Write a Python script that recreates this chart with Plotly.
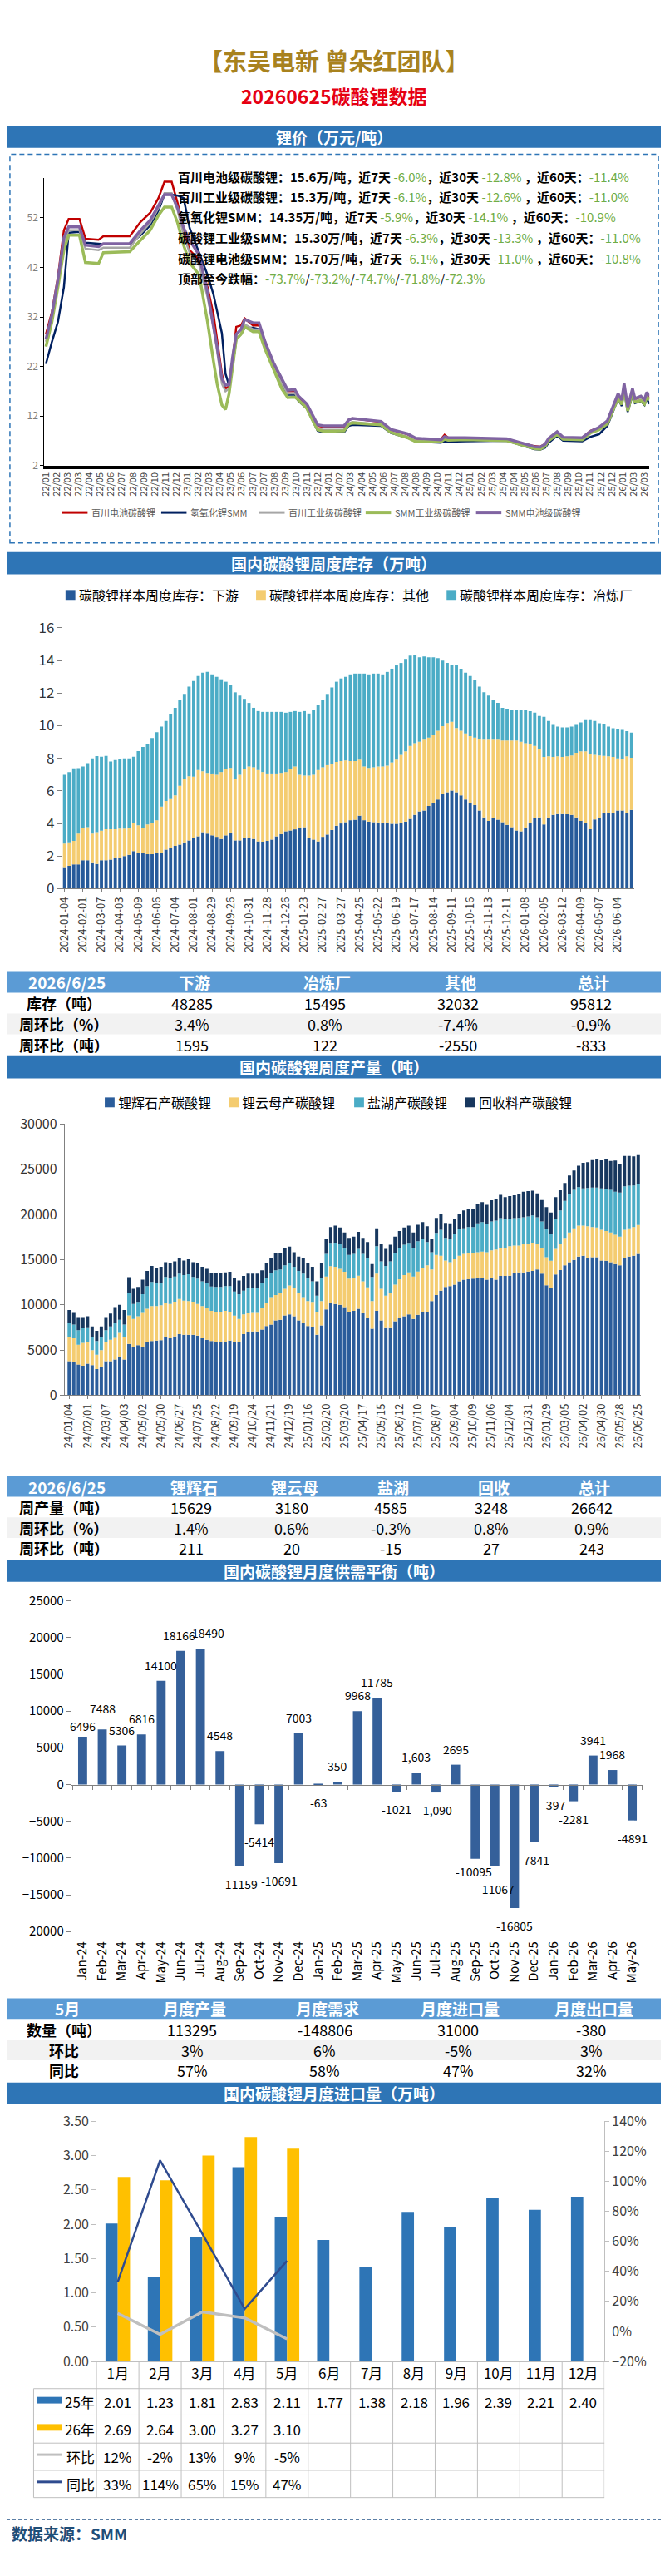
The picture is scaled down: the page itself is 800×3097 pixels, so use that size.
import numpy as np
import plotly.graph_objects as go

W, H = 800, 3097
def xp(v): return v / W
def yp(v): return 1 - v / H

CN = "Noto Sans CJK SC, sans-serif"

# ---------------- price chart data (万元/吨) ----------------
price_ticks = ["22/01","22/02","22/03","22/03","22/04","22/05","22/06","22/07","22/08","22/09","22/10","22/11","22/12",
               "23/01","23/02","23/03","23/04","23/05","23/06","23/07","23/07","23/08","23/09","23/10","23/11","23/12",
               "24/01","24/02","24/03","24/04","24/05","24/06","24/07","24/08","24/08","24/09","24/10","24/11","24/12",
               "25/01","25/02","25/03","25/04","25/04","25/05","25/06","25/07","25/08","25/09","25/10","25/11","25/12","25/12",
               "26/01","26/03","26/03"]
price_x = [0, 0.5, 1.0, 1.5, 1.9, 2.8, 3.3, 4.4, 4.8, 7.0, 7.9, 8.7, 9.4, 9.9, 10.5, 11.0, 11.5, 12.0, 12.8, 13.5,
           14.0, 14.3, 14.7, 15.0, 15.3, 15.6, 15.9, 16.3, 16.6, 17.3, 17.8, 18.3, 19.0, 19.7, 20.2, 20.8, 21.1, 21.8, 22.3, 22.7,
           23.2, 24.9, 25.3, 25.6, 28.0, 28.8, 30.2, 30.9, 33.0, 33.3, 33.6, 35.0, 38.5, 39.6, 40.8, 41.3, 41.7, 42.0, 42.7, 43.2,
           44.8, 45.5, 46.2, 46.9, 47.4, 47.8, 48.1, 48.3, 48.6, 49.0, 49.2, 49.7, 50.0, 50.2, 50.4]
p_bc_batt = [28.5, 33.0, 40.0, 49.5, 51.8, 51.8, 47.8, 47.6, 48.3, 48.3,
             51.2, 53.0, 56.0, 59.3, 59.3, 55.0, 49.5, 45.5, 43.5, 38.0,
             32.5, 27.0, 20.5, 17.5, 18.0, 23.5, 30.0, 30.3, 31.7, 30.3,
             30.3, 26.5, 22.3, 19.2, 17.0, 17.0, 15.8, 14.2, 11.7, 10.0,
             9.8, 9.8, 11.2, 11.5, 10.8, 9.2, 8.3, 7.4, 7.3, 8.2,
             7.6, 7.5, 7.3, 6.6, 5.9, 5.8, 6.3, 7.3, 8.6, 7.6,
             7.6, 9.0, 9.6, 10.8, 13.8, 16.2, 14.8, 18.2, 13.4, 17.3,
             15.3, 15.7, 14.9, 16.5, 15.6]
p_lioh = [22.5, 27.0, 31.0, 38.0, 49.0, 49.2, 47.0, 46.7, 46.7, 46.7,
          48.5, 50.5, 53.5, 56.7, 56.7, 56.5, 56.0, 50.0, 45.0, 40.5,
          36.5, 33.0, 28.7, 20.5, 18.2, 22.0, 27.5, 28.5, 29.8, 29.8,
          29.5, 26.0, 21.5, 18.5, 16.3, 16.3, 15.0, 13.5, 11.0, 9.0,
          8.7, 8.7, 10.0, 10.2, 10.0, 8.6, 7.6, 6.8, 6.6, 6.9,
          6.8, 6.9, 7.0, 6.2, 5.3, 5.2, 5.6, 6.6, 8.0, 7.0,
          6.9, 7.8, 8.3, 10.0, 13.0, 15.5, 14.0, 17.2, 12.8, 16.2,
          14.6, 15.0, 14.2, 15.5, 14.4]
p_bc_ind = [27.0, 32.0, 39.0, 47.0, 49.5, 49.5, 45.8, 45.5, 46.0, 46.0,
            48.8, 51.0, 54.0, 57.0, 57.0, 53.5, 48.5, 45.0, 42.5, 36.0,
            30.0, 25.0, 18.5, 17.0, 17.5, 22.5, 28.5, 29.5, 30.5, 29.5,
            29.5, 25.8, 21.8, 18.5, 16.5, 16.6, 15.3, 13.8, 11.3, 9.4,
            9.2, 9.2, 10.5, 10.8, 10.2, 8.7, 7.8, 7.0, 6.9, 7.4,
            7.2, 7.2, 7.0, 6.3, 5.5, 5.4, 6.0, 7.0, 8.3, 7.3,
            7.3, 8.7, 9.3, 10.5, 13.5, 15.8, 14.5, 17.8, 13.2, 16.9,
            15.0, 15.4, 14.6, 16.1, 15.3]
p_smm_ind = [26.0, 31.0, 38.0, 45.5, 48.5, 48.5, 43.0, 42.8, 45.0, 45.2,
             47.5, 49.5, 52.5, 54.2, 54.2, 51.0, 46.5, 43.0, 40.5, 31.0,
             23.0, 18.5, 14.2, 13.3, 16.5, 22.5, 27.5, 28.5, 30.0, 29.0,
             29.0, 25.5, 21.5, 17.5, 15.7, 15.8, 15.2, 13.5, 11.0, 9.2,
             8.9, 9.0, 10.3, 10.6, 10.2, 8.7, 7.6, 6.8, 6.8, 7.3,
             7.1, 7.2, 7.0, 6.3, 5.4, 5.3, 5.9, 7.0, 8.3, 7.3,
             7.2, 8.6, 9.2, 10.4, 13.3, 15.6, 14.3, 17.5, 13.0, 16.6,
             14.8, 15.1, 14.4, 15.8, 15.2]
p_smm_batt = [27.5, 32.5, 39.5, 48.0, 50.2, 50.2, 46.5, 46.2, 46.8, 46.8,
              49.5, 51.5, 54.5, 56.7, 56.7, 54.0, 50.0, 47.5, 44.5, 37.0,
              30.0, 26.0, 19.5, 18.2, 18.3, 24.0, 28.5, 29.5, 31.5, 30.8,
              30.8, 27.0, 22.8, 19.5, 17.2, 17.3, 16.0, 14.4, 12.0, 10.2,
              10.0, 10.0, 11.2, 11.5, 10.9, 9.3, 8.4, 7.5, 7.2, 7.8,
              7.6, 7.6, 7.4, 6.6, 5.8, 5.7, 6.3, 7.5, 8.8, 7.7,
              7.6, 8.9, 9.7, 11.0, 14.0, 16.5, 15.2, 18.5, 13.8, 17.5,
              15.5, 16.0, 15.3, 16.8, 16.0]
price_notes = [
    ("百川电池级碳酸锂", "15.6万/吨", "-6.0%", "-12.8%", "-11.4%"),
    ("百川工业级碳酸锂", "15.3万/吨", "-6.1%", "-12.6%", "-11.0%"),
    ("氢氧化锂SMM", "14.35万/吨", "-5.9%", "-14.1%", "-10.9%"),
    ("碳酸锂工业级SMM", "15.30万/吨", "-6.3%", "-13.3%", "-11.0%"),
    ("碳酸锂电池级SMM", "15.70万/吨", "-6.1%", "-11.0%", "-10.8%"),
]
price_top_drop = ["-73.7%", "-73.2%", "-74.7%", "-71.8%", "-72.3%"]

# ---------------- weekly inventory (万吨), stacked boundaries ----------------
inv_ticks = ["2024-01-04","2024-02-01","2024-03-07","2024-04-03","2024-05-09","2024-06-06","2024-07-04","2024-08-01",
             "2024-08-29","2024-09-26","2024-10-31","2024-11-28","2024-12-26","2025-01-23","2025-02-27","2025-03-27",
             "2025-04-25","2025-05-22","2025-06-19","2025-07-17","2025-08-14","2025-09-11","2025-10-16","2025-11-13",
             "2025-12-11","2026-01-08","2026-02-05","2026-03-12","2026-04-09","2026-05-07","2026-06-04"]
inv_downstream = [1.32,1.40,1.49,1.49,1.74,1.74,1.62,1.52,1.74,1.74,
                  1.78,1.86,1.91,2.00,2.08,2.30,2.17,2.22,2.12,2.12,
                  2.17,2.22,2.39,2.50,2.62,2.70,2.84,2.96,3.13,3.21,
                  3.47,3.38,3.27,3.18,3.05,3.27,3.43,2.96,2.96,3.13,
                  3.10,3.05,2.90,2.88,2.93,3.01,3.21,3.35,3.52,3.57,
                  3.64,3.72,3.77,3.13,3.01,2.90,3.18,3.32,3.60,3.86,
                  4.00,4.08,4.20,4.23,4.48,4.20,4.11,4.08,4.06,4.03,
                  4.03,3.98,3.98,4.03,4.11,4.28,4.53,4.74,4.79,5.08,
                  5.25,5.47,5.80,5.92,6.02,5.92,5.72,5.47,5.25,5.13,
                  4.79,4.37,4.15,4.31,4.23,4.08,3.91,3.77,3.57,3.52,
                  3.72,4.03,4.31,4.37,3.94,4.31,4.53,4.58,4.58,4.57,
                  4.53,4.37,4.15,4.03,3.64,4.25,4.31,4.62,4.62,4.65,
                  4.79,4.79,4.67,4.83]
inv_down_plus_other = [2.76,2.84,2.93,3.38,3.72,3.77,3.38,3.47,3.55,3.64,
                       3.64,3.64,3.69,3.69,3.72,4.06,3.89,3.72,3.94,4.03,
                       4.20,5.04,5.38,5.55,5.72,6.31,6.73,6.90,6.87,7.28,
                       7.21,7.11,7.07,6.99,7.16,7.33,7.41,6.73,6.99,7.33,
                       7.50,7.45,7.28,7.16,7.07,7.07,7.07,7.11,7.16,7.33,
                       7.50,6.99,6.94,6.94,6.99,7.28,7.45,7.58,7.67,7.78,
                       7.83,7.87,7.83,7.83,7.92,7.50,7.41,7.45,7.50,7.50,
                       7.55,7.75,7.92,8.21,8.43,8.76,8.93,9.02,9.14,9.27,
                       9.41,9.70,9.98,10.17,10.24,9.86,9.70,9.53,9.36,9.27,
                       9.19,9.14,9.14,9.14,9.14,9.10,9.10,9.10,9.10,9.02,
                       8.93,8.85,8.76,8.60,8.09,8.12,8.09,8.12,8.09,8.12,
                       8.17,8.34,8.43,8.43,8.26,8.21,8.17,8.15,8.12,8.09,
                       8.00,7.95,8.13,8.03]
inv_total = [6.99,7.16,7.38,7.40,7.50,7.70,8.00,8.14,8.10,8.15,
             7.80,7.90,7.97,8.00,8.00,8.10,8.45,8.70,8.85,9.25,
             9.60,9.95,10.30,10.70,11.10,11.60,11.95,12.40,12.75,13.05,
             13.25,13.30,13.15,13.00,12.85,12.70,12.50,12.05,11.85,11.65,
             11.40,11.10,10.90,10.85,10.85,10.85,10.85,10.85,10.80,10.85,
             10.90,10.85,10.90,10.75,10.95,11.30,11.60,11.95,12.35,12.70,
             12.90,13.00,13.15,13.20,13.20,13.20,13.15,13.20,13.20,13.15,
             13.30,13.50,13.70,13.85,14.10,14.30,14.35,14.20,14.25,14.20,
             14.20,14.15,14.00,13.85,13.75,13.70,13.50,13.25,13.05,12.80,
             12.40,12.05,11.85,11.60,11.40,11.10,11.05,11.00,10.95,11.00,
             11.00,10.90,10.80,10.60,10.55,10.30,10.05,9.95,9.90,9.90,
             9.95,10.05,10.20,10.35,10.35,10.30,10.15,10.10,9.95,9.85,
             9.80,9.75,9.67,9.58]
inv_table_cols = ["下游", "冶炼厂", "其他", "总计"]
inv_table_rows = [("库存（吨）", ["48285", "15495", "32032", "95812"]),
                  ("周环比（%）", ["3.4%", "0.8%", "-7.4%", "-0.9%"]),
                  ("周环比（吨）", ["1595", "122", "-2550", "-833"])]

# ---------------- weekly production (吨), stacked boundaries ----------------
prod_ticks = ["24/01/04","24/02/01","24/03/07","24/04/03","24/05/02","24/05/30","24/06/27","24/07/25","24/08/22",
              "24/09/19","24/10/24","24/11/21","24/12/19","25/01/16","25/02/20","25/03/20","25/04/17","25/05/15",
              "25/06/12","25/07/10","25/08/07","25/09/04","25/10/09","25/11/06","25/12/04","25/12/31","26/01/29",
              "26/03/05","26/04/02","26/04/30","26/05/28","26/06/25"]
prod_spod = [3770,3620,3400,3250,3500,3340,2890,3100,3770,3770,
             3950,4230,3950,5680,5290,5530,5380,5840,5990,6050,
             6080,6380,6290,6500,6750,6690,6690,6690,6600,6290,
             6140,5990,5930,5930,5930,6050,5930,5930,6750,6990,
             7050,7050,7270,7660,7810,8270,8330,8820,8940,8720,
             8270,8030,7660,7570,6690,7720,9480,10180,10090,10000,
             9730,9240,9330,9550,9090,8570,7360,9330,8270,7510,
             7510,8180,8570,8720,8940,8420,8880,9240,9240,10400,
             11070,11550,11980,12070,12220,12590,12770,12830,12890,12980,
             12980,12770,12980,12770,13190,13190,13220,13500,13590,13590,
             13680,13740,13890,13440,12160,11830,13350,13830,14350,14710,
             14960,15320,15410,15200,15260,15260,14900,14870,14710,14500,
             14350,15110,15320,15418,15629]
prod_spod_lepi = [6380,6290,5590,5780,5840,4980,4470,4980,5930,6140,
                  6350,6900,6380,8820,8420,8720,9180,9550,9850,9850,
                  9940,10240,10090,10340,10640,10460,10400,10340,10090,9850,
                  9640,9330,9240,9240,9330,9240,8790,8420,8940,9120,
                  9180,9180,9640,10240,10850,11070,11250,11760,12130,11860,
                  11250,10850,10400,10310,9240,10400,13130,14260,14200,13980,
                  13650,12890,12980,13220,12590,11920,10400,13440,11760,11000,
                  11310,12220,12830,13280,13590,13130,13680,14100,14350,13890,
                  15500,15410,14900,14710,15020,15410,15630,15720,15720,15810,
                  15870,15810,16020,16110,16320,16320,16480,16540,16540,16690,
                  16780,16870,16780,16230,15260,14870,16170,16780,17390,18000,
                  18450,18760,18760,18670,18600,18540,18300,18150,18000,17750,
                  17540,18300,18450,18578,18809]
prod_spod_lepi_brine = [7960,7810,7200,7420,7510,6440,5990,6440,7200,7600,
                        8030,8330,7810,11310,10090,10310,11160,12070,12520,12460,
                        12460,13070,12980,13130,13440,13290,13380,13070,12890,12590,
                        12460,12010,11980,11980,12070,12070,11460,11160,11550,11860,
                        11860,11860,12370,12980,13500,13800,13890,14350,14590,14200,
                        13740,13440,12980,12590,11000,12980,15630,16840,16870,16780,
                        16230,15500,15630,16170,15630,15110,13070,16480,14800,14290,
                        14800,15720,16260,16630,16840,16230,17020,17240,16930,15810,
                        17940,18300,17390,17240,17840,18360,18450,18600,18600,19000,
                        19150,18910,19210,19300,19580,19520,19520,19580,19610,19670,
                        19760,19880,19670,19210,18360,17840,19460,20430,21490,22250,
                        22710,23010,22860,22920,22950,22950,22860,22800,22710,22500,
                        22400,23100,23160,23178,23394]
prod_total = [9420,9180,8630,8630,8720,7600,7110,7600,8630,9030,
              9730,10000,9420,13040,11760,11980,12770,13740,14290,14100,
              14200,14710,14590,14800,15110,14900,15020,14710,14590,14200,
              13980,13530,13500,13500,13590,13650,12980,12680,13190,13440,
              13440,13440,13800,14560,15110,15660,15720,16230,16420,15800,
              15320,15110,14650,14200,12590,14650,17240,18600,18760,18540,
              18000,17390,17540,18060,17390,16930,14500,18450,16690,16170,
              16630,17540,18150,18540,18760,18000,18850,19150,18670,17300,
              19610,20030,19060,19000,19460,20060,20430,20580,20640,21130,
              21340,21040,21550,21650,22160,21890,22010,22100,22190,22500,
              22560,22620,22310,21580,20790,20190,21890,22650,23470,24290,
              24840,25380,25690,25750,25990,26050,25960,26050,25900,25950,
              25600,26450,26450,26399,26642]
prod_table_cols = ["锂辉石", "锂云母", "盐湖", "回收", "总计"]
prod_table_rows = [("周产量（吨）", ["15629", "3180", "4585", "3248", "26642"]),
                   ("周环比（%）", ["1.4%", "0.6%", "-0.3%", "0.8%", "0.9%"]),
                   ("周环比（吨）", ["211", "20", "-15", "27", "243"])]

# ---------------- monthly balance (吨) ----------------
bal_months = ["Jan-24","Feb-24","Mar-24","Apr-24","May-24","Jun-24","Jul-24","Aug-24","Sep-24","Oct-24","Nov-24","Dec-24",
              "Jan-25","Feb-25","Mar-25","Apr-25","May-25","Jun-25","Jul-25","Aug-25","Sep-25","Oct-25","Nov-25","Dec-25",
              "Jan-26","Feb-26","Mar-26","Apr-26","May-26"]
bal_values = [6496, 7488, 5306, 6816, 14100, 18166, 18490, 4548, -11159, -5414, -10691, 7003,
              -63, 350, 9968, 11785, -1021, 1603, -1090, 2695, -10095, -11067, -16805, -7841,
              -397, -2281, 3941, 1968, -4891]
bal_labels = ["6496", "7488", "5306", "6816", "14100", "18166", "18490", "4548", "-11159", "-5414", "-10691", "7003",
              "-63", "350", "9968", "11785", "-1021", "1,603", "-1,090", "2695", "-10095", "-11067", "-16805", "-7841",
              "-397", "-2281", "3941", "1968", "-4891"]
# label nudges (px) so that crowded labels stay readable
bal_label_dx = [0, 0, 0, 0, 0, -2, 9, 0, 0, 0, 0, 0,
                0, 0, 0, 0, 0, 0, 0, 0, -2, 2, 0, 0,
                0, 0, 0, 0, 0]
bal_label_dy = [-6, 6, 0, 0, 0, 0, 0, 0, 0, 0, 0, 0,
                0, 0, 0, 0, 0, 0, 0, 0, 6, -7, 0, 0,
                0, 0, 0, 0, 0]
bal_table_cols = ["月度产量", "月度需求", "月度进口量", "月度出口量"]
bal_table_rows = [("数量（吨）", ["113295", "-148806", "31000", "-380"]),
                  ("环比", ["3%", "6%", "-5%", "3%"]),
                  ("同比", ["57%", "58%", "47%", "32%"])]

# ---------------- monthly imports (万吨) ----------------
imp_months = ["1月","2月","3月","4月","5月","6月","7月","8月","9月","10月","11月","12月"]
imp_25 = [2.01, 1.23, 1.81, 2.83, 2.11, 1.77, 1.38, 2.18, 1.96, 2.39, 2.21, 2.40]
imp_26 = [2.69, 2.64, 3.00, 3.27, 3.10]
imp_mom = [12, -2, 13, 9, -5]
imp_yoy = [33, 114, 65, 15, 47]

# =====================================================================
fig = go.Figure()
shapes, ann = [], []

def note(text, x, y, size, color="#000000", xanchor="center", xref="paper", bold=False):
    ann.append(dict(text=("<b>%s</b>" % text) if bold else text, x=x, y=y, xref=xref, yref="paper",
                    xanchor=xanchor, yanchor="middle", showarrow=False,
                    font=dict(size=size, color=color, family=CN)))

def legend_line(x, y, color, text, width=3, size=11, tcolor="#595959"):
    shapes.append(dict(type="line", xref="paper", yref="paper", x0=xp(x), x1=xp(x + 31), y0=yp(y), y1=yp(y),
                       line=dict(color=color, width=width)))
    note(text, xp(x + 34), yp(y), size, tcolor, xanchor="left")

def legend_box(x, y, color, text, size=16):
    shapes.append(dict(type="rect", xref="paper", yref="paper", x0=xp(x), x1=xp(x + 12), y0=yp(y + 6), y1=yp(y - 6),
                       fillcolor=color, line=dict(width=0)))
    note(text, xp(x + 14), yp(y), size, "#000000", xanchor="left")

# price lines
price_series = [("百川电池碳酸锂", p_bc_batt, "#C00000", 2.5, 68),
                ("氢氧化锂SMM", p_lioh, "#002060", 2.5, 189),
                ("百川工业级碳酸锂", p_bc_ind, "#A6A6A6", 2.5, 309),
                ("SMM工业级碳酸锂", p_smm_ind, "#9BBB59", 3.5, 439),
                ("SMM电池级碳酸锂", p_smm_batt, "#8064A2", 3.5, 574)]
for name, vals, color, w, lx in price_series:
    fig.add_trace(go.Scatter(x=price_x, y=vals, mode="lines", name=name,
                             line=dict(color=color, width=w), xaxis="x", yaxis="y", showlegend=False))
    legend_line(lx, 607, color, name, width=3 if w < 3 else 4)

# inventory stacked bars
d = np.array(inv_downstream); o = np.array(inv_down_plus_other); t = np.array(inv_total)
ix = np.arange(len(t))
for name, y, base, color, lx in [("碳酸锂样本周度库存：下游", d, np.zeros_like(d), "#265A9A", 72),
                                 ("碳酸锂样本周度库存：其他", o - d, d, "#F4CC70", 305),
                                 ("碳酸锂样本周度库存：冶炼厂", t - o, o, "#4BACC6", 538)]:
    fig.add_trace(go.Bar(x=ix, y=y, base=base, name=name, marker=dict(color=color, line=dict(width=0)),
                         width=0.7, xaxis="x2", yaxis="y2", showlegend=False))
    legend_box(lx, 707, color, name)

# production stacked bars
s1 = np.array(prod_spod); s2 = np.array(prod_spod_lepi); s3 = np.array(prod_spod_lepi_brine); s4 = np.array(prod_total)
px_ = np.arange(len(s4))
for name, y, base, color, lx in [("锂辉石产碳酸锂", s1, np.zeros_like(s1), "#2B5D9B", 120),
                                 ("锂云母产碳酸锂", s2 - s1, s1, "#F4CC70", 272),
                                 ("盐湖产碳酸锂", s3 - s2, s2, "#4BACC6", 425),
                                 ("回收料产碳酸锂", s4 - s3, s3, "#17375E", 561)]:
    fig.add_trace(go.Bar(x=px_, y=y, base=base, name=name, marker=dict(color=color, line=dict(width=0)),
                         width=0.72, xaxis="x3", yaxis="y3", showlegend=False))
    legend_box(lx, 1322, color, name)

# balance
fig.add_trace(go.Bar(x=bal_months, y=bal_values, marker=dict(color="#35609A", line=dict(width=0)), width=0.46,
                     xaxis="x4", yaxis="y4", showlegend=False))
fig.add_trace(go.Scatter(x=[None], y=[None], xaxis="x6", yaxis="y4", showlegend=False))
for m, v, lab, dx, dy in zip(bal_months, bal_values, bal_labels, bal_label_dx, bal_label_dy):
    ann.append(dict(text=lab, x=m, y=v, xref="x4", yref="y4", xanchor="center", yanchor="middle",
                    xshift=dx, yshift=(19 if v > 0 else -21) + dy, showarrow=False,
                    font=dict(size=14, color="#000000", family=CN)))

# imports
fig.add_trace(go.Bar(x=imp_months, y=imp_25, name="25年", marker=dict(color="#2E75B6", line=dict(width=0)),
                     width=0.29, offset=-0.29, xaxis="x5", yaxis="y5", showlegend=False))
fig.add_trace(go.Bar(x=imp_months[:len(imp_26)], y=imp_26, name="26年", marker=dict(color="#FFC000", line=dict(width=0)),
                     width=0.29, offset=0.0, xaxis="x5", yaxis="y5", showlegend=False))
fig.add_trace(go.Scatter(x=imp_months[:len(imp_mom)], y=imp_mom, mode="lines", name="环比",
                         line=dict(color="#BFBFBF", width=3.5), xaxis="x5", yaxis="y6", showlegend=False))
fig.add_trace(go.Scatter(x=imp_months[:len(imp_yoy)], y=imp_yoy, mode="lines", name="同比",
                         line=dict(color="#2F4B8F", width=2.5), xaxis="x5", yaxis="y6", showlegend=False))

# =====================================================================
def header_bar(y0, y1, text):
    shapes.append(dict(type="rect", xref="paper", yref="paper", x0=0, x1=1, y0=yp(y1), y1=yp(y0),
                       fillcolor="#2E75B6", line=dict(width=0), layer="above"))
    note(text, 0.5, yp((y0 + y1) / 2), 19, "white", bold=True)

def table(top, hh, rh, first, cols, col_x, rows, lab_x=70, first_x=74):
    shapes.append(dict(type="rect", xref="paper", yref="paper", x0=0, x1=1, y0=yp(top + hh), y1=yp(top),
                       fillcolor="#5B9BD5", line=dict(width=0), layer="above"))
    note(first, xp(first_x), yp(top + hh / 2), 19, "white", bold=True)
    for c, cx in zip(cols, col_x):
        note(c, xp(cx), yp(top + hh / 2), 19, "white", bold=True)
    for r, (lab, vals) in enumerate(rows):
        y0 = top + hh + r * rh
        if r == 1:
            shapes.append(dict(type="rect", xref="paper", yref="paper", x0=0, x1=1, y0=yp(y0 + rh), y1=yp(y0),
                               fillcolor="#F2F2F2", line=dict(width=0), layer="above"))
        note(lab, xp(lab_x), yp(y0 + rh / 2), 18, "#000000", bold=True)
        for v, cx in zip(vals, col_x):
            note(v, xp(cx - 3), yp(y0 + rh / 2), 18, "#000000")

# titles
note("【东吴电新 曾朵红团队】", 0.5, yp(58), 29, "#A8821E", bold=True)
note("20260625碳酸锂数据", 0.5, yp(102), 23, "#E60012", bold=True)

header_bar(138, 165, "锂价（万元/吨）")
header_bar(655, 682, "国内碳酸锂周度库存（万吨）")
header_bar(1265, 1293, "国内碳酸锂周度产量（吨）")
header_bar(1877, 1903, "国内碳酸锂月度供需平衡（吨）")
header_bar(2510, 2536, "国内碳酸锂月度进口量（万吨）")

# dashed box for price chart
shapes.append(dict(type="rect", xref="paper", yref="paper", x0=xp(4), x1=xp(797), y0=yp(644), y1=yp(173),
                   line=dict(color="#2E75B6", width=1.5, dash="6px,4px"), fillcolor="rgba(0,0,0,0)"))

# price notes
G = lambda s: "<span style='color:#70AD47'>%s</span>" % s
note_y = [200, 224.5, 249, 274, 299, 323]
for (nm, pr, a, b, c), yy in zip(price_notes, note_y):
    txt = "<b>%s：%s，近7天 </b>%s<b>，近30天 </b>%s<b> ，近60天：</b>%s" % (nm, pr, G(a), G(b), G(c))
    note(txt, xp(207), yp(yy), 15, "#000000", xanchor="left")
note("<b>顶部至今跌幅：</b>" + "/".join(G(v) for v in price_top_drop), xp(207), yp(note_y[5]), 15, "#000000",
     xanchor="left")

# tables
table(1163, 26, 25.3, "2026/6/25", inv_table_cols, [230, 392, 555, 718], inv_table_rows)
table(1775, 25, 25, "2026/6/25", prod_table_cols, [229, 352, 473, 596, 719], prod_table_rows)
table(2408, 25, 25, "5月", bal_table_cols, [230, 392, 555, 718], bal_table_rows)

# import data table
grid = "#BFBFBF"
row_lines = [2881, 2913, 2947, 2980, 3013]
for yy in row_lines:
    shapes.append(dict(type="line", xref="paper", yref="paper", x0=xp(33), x1=xp(731), y0=yp(yy), y1=yp(yy),
                       line=dict(color=grid, width=1)))
shapes.append(dict(type="line", xref="paper", yref="paper", x0=xp(33), x1=xp(33), y0=yp(3013), y1=yp(2881),
                   line=dict(color=grid, width=1)))
for k in range(len(imp_months) + 1):
    shapes.append(dict(type="line", xref="x5", yref="paper", x0=k - 0.5, x1=k - 0.5, y0=yp(3013), y1=yp(2848),
                       line=dict(color=grid, width=1)))
row_c = [2897, 2930, 2963.5, 2996.5]
shapes.append(dict(type="rect", xref="paper", yref="paper", x0=xp(37), x1=xp(68), y0=yp(2899), y1=yp(2891),
                   fillcolor="#2E75B6", line=dict(width=0)))
shapes.append(dict(type="rect", xref="paper", yref="paper", x0=xp(37), x1=xp(68), y0=yp(2932), y1=yp(2924),
                   fillcolor="#FFC000", line=dict(width=0)))
shapes.append(dict(type="line", xref="paper", yref="paper", x0=xp(37), x1=xp(68), y0=yp(2961), y1=yp(2961),
                   line=dict(color="#BFBFBF", width=3)))
shapes.append(dict(type="line", xref="paper", yref="paper", x0=xp(37), x1=xp(68), y0=yp(2994), y1=yp(2994),
                   line=dict(color="#2F4B8F", width=3)))
for lab, yy, lx in [("25年", row_c[0], 69), ("26年", row_c[1], 69), ("环比", row_c[2], 71), ("同比", row_c[3], 71)]:
    note(lab, xp(lx), yp(yy), 17, "#000000", xanchor="left")
for series, fmt, yy in [(imp_25, "%.2f", row_c[0]), (imp_26, "%.2f", row_c[1]),
                        (imp_mom, "%d%%", row_c[2]), (imp_yoy, "%d%%", row_c[3])]:
    for k, v in enumerate(series):
        note(fmt % v, imp_months[k], yp(yy), 17, "#000000", xref="x5")

# footer
shapes.append(dict(type="line", xref="paper", yref="paper", x0=0, x1=1, y0=yp(3040), y1=yp(3040),
                   line=dict(color="#5B7FA6", width=1.2, dash="4px,3px")))
note("数据来源：SMM", xp(4), yp(3056), 19, "#1F4E79", xanchor="left", bold=True)

tick_dark = "#404040"
fig.update_layout(
    width=W, height=H, margin=dict(l=0, r=0, t=0, b=0),
    paper_bgcolor="white", plot_bgcolor="rgba(0,0,0,0)",
    barmode="overlay", font=dict(family=CN, color="#000000"),
    shapes=shapes, annotations=ann, showlegend=False,
    # price
    xaxis=dict(domain=[xp(46), xp(786)], range=[-0.14, 50.41], tickmode="array",
               tickvals=list(np.linspace(0, 50, len(price_ticks))), ticktext=price_ticks, tickangle=-90,
               tickfont=dict(size=11, color=tick_dark), showline=True, linecolor="#000000", linewidth=4,
               ticks="", showgrid=False, zeroline=False, anchor="y"),
    yaxis=dict(domain=[yp(550), yp(202)], range=[2, 60], tickvals=[2, 12, 22, 32, 42, 52],
               tickfont=dict(size=12, color="#7F7F7F"), showline=True, linecolor="#000000", linewidth=1,
               ticks="outside", ticklen=4, tickcolor="#000000", showgrid=False, zeroline=False, anchor="x"),
    # inventory
    xaxis2=dict(domain=[xp(68), xp(767)], range=[-0.5, len(inv_total) - 0.5], tickmode="array",
                tickvals=list(range(0, len(inv_total), 4)), ticktext=inv_ticks, tickangle=-90,
                tickfont=dict(size=13, color="#333333"), showline=True, linecolor="#808080",
                ticks="outside", ticklen=4, tickcolor="#808080", showgrid=False, zeroline=False, anchor="y2"),
    yaxis2=dict(domain=[yp(1063), yp(747)], range=[0, 16], dtick=2, tickfont=dict(size=17, color="#333333"),
                showline=True, linecolor="#808080", ticks="outside", ticklen=5, tickcolor="#808080",
                showgrid=False, zeroline=False, anchor="x2"),
    # production
    xaxis3=dict(domain=[xp(71), xp(776)], range=[-0.98, len(prod_total) - 0.35], tickmode="array",
                tickvals=list(range(0, len(prod_total), 4)), ticktext=prod_ticks, tickangle=-90,
                tickfont=dict(size=13, color="#333333"), showline=True, linecolor="#808080",
                ticks="outside", ticklen=4, tickcolor="#808080", showgrid=False, zeroline=False, anchor="y3"),
    yaxis3=dict(domain=[yp(1677), yp(1348)], range=[0, 30000], dtick=5000, tickformat="d",
                tickfont=dict(size=16, color="#333333"),
                showline=True, linecolor="#808080", ticks="outside", ticklen=5, tickcolor="#808080",
                showgrid=False, zeroline=False, anchor="x3"),
    # balance
    xaxis4=dict(domain=[xp(79), xp(778)], type="category", range=[-0.58, 28.54], tickangle=-90,
                tickfont=dict(size=15, color="#000000"), showline=False, ticks="", showgrid=False,
                zeroline=False, anchor="y4", ticklabelstandoff=8),
    xaxis6=dict(overlaying="x4", anchor="free", position=yp(2149), range=[-0.58, 28.54], tickmode="array",
                tickvals=list(np.arange(-0.5, 28.6, 1.0)), showticklabels=False, ticks="outside", ticklen=5,
                tickcolor="#808080", showline=True, linecolor="#808080", showgrid=False, zeroline=False),
    yaxis4=dict(domain=[yp(2327), yp(1926)], range=[-20000, 25000], dtick=5000, tickformat="d",
                tickfont=dict(size=15, color="#000000"), showline=True, linecolor="#808080", ticks="outside",
                ticklen=5, tickcolor="#808080", showgrid=False, zeroline=False, anchor="x4"),
    # imports
    xaxis5=dict(domain=[xp(110), xp(731)], type="category", range=[-0.5, 11.5],
                tickfont=dict(size=17, color="#000000"), showline=True, linecolor=grid, ticks="",
                showgrid=False, zeroline=False, anchor="y5"),
    yaxis5=dict(domain=[yp(2848), yp(2557)], range=[0, 3.5], tickvals=[0, 0.5, 1, 1.5, 2, 2.5, 3, 3.5],
                tickformat=".2f", tickfont=dict(size=16, color=tick_dark), showline=True, linecolor=grid,
                ticks="outside", ticklen=5, tickcolor=grid, showgrid=False, zeroline=False, anchor="x5"),
    yaxis6=dict(overlaying="y5", side="right", anchor="x5", range=[-20, 140], dtick=20, ticksuffix="%",
                tickfont=dict(size=16, color=tick_dark), showline=True, linecolor=grid, ticks="outside",
                ticklen=5, tickcolor=grid, showgrid=False, zeroline=False),
)

fig.write_html("out.html")
